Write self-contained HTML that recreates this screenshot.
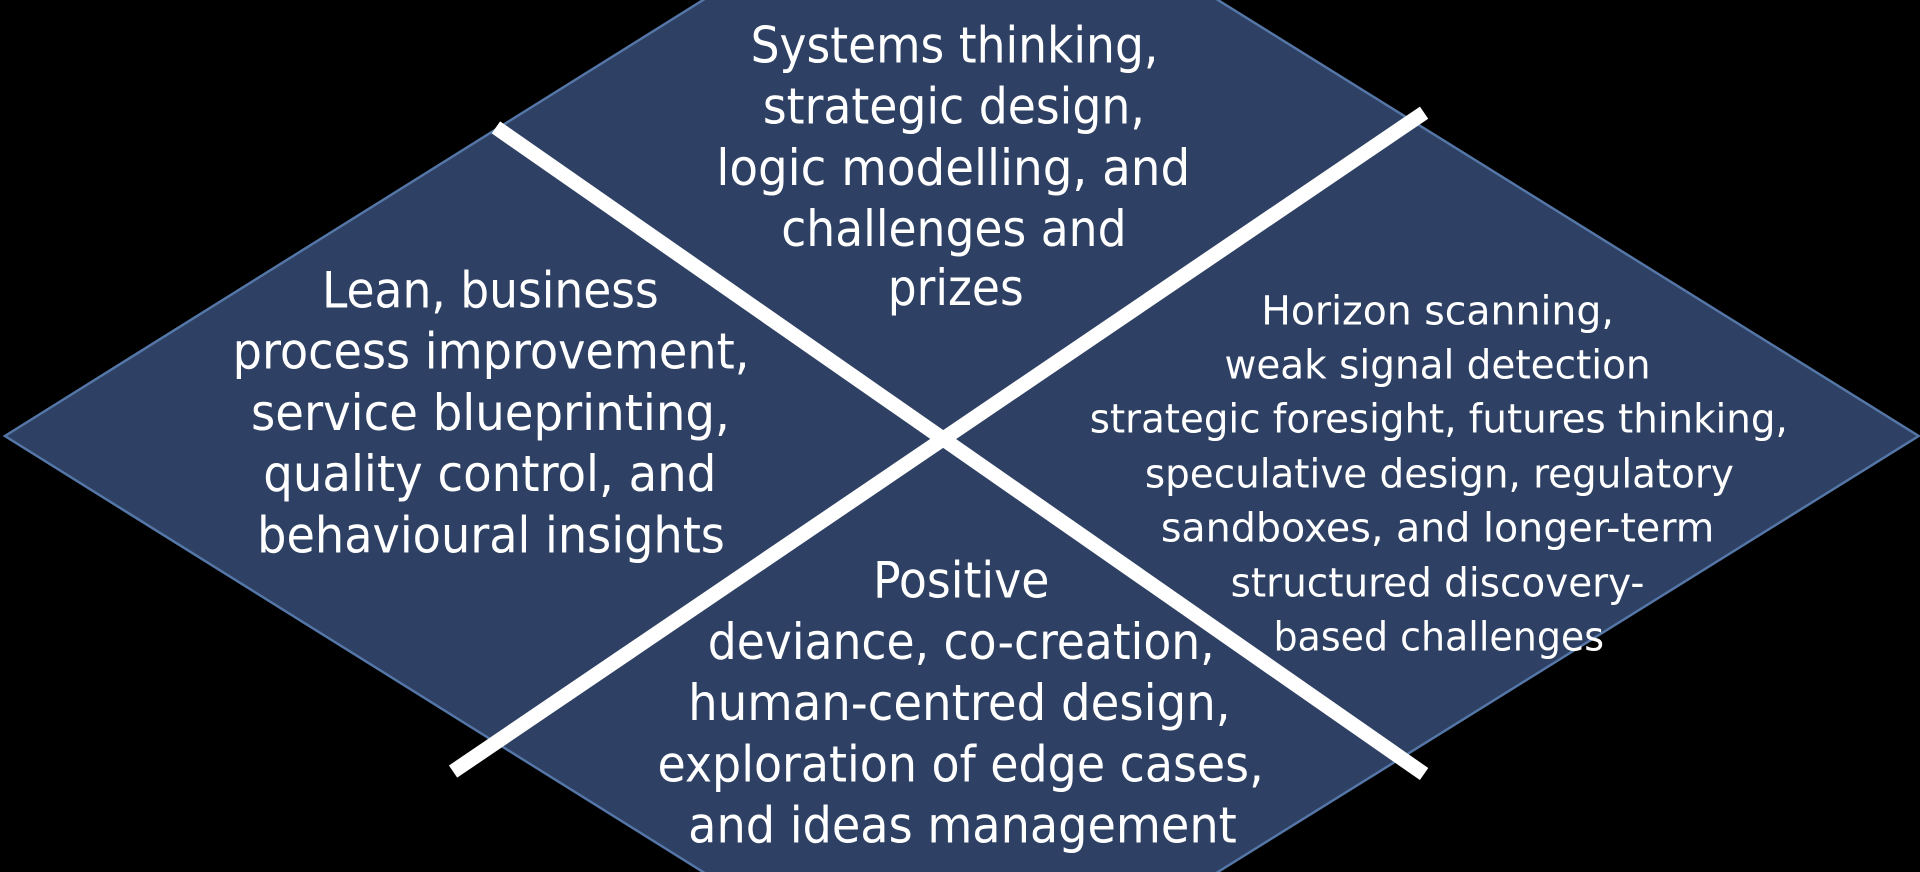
<!DOCTYPE html>
<html><head><meta charset="utf-8"><style>html,body{margin:0;padding:0;background:#000;width:1920px;height:872px;overflow:hidden}svg{display:block}</style></head>
<body>
<svg width="1920" height="872" viewBox="0 0 1568 712" preserveAspectRatio="none" xmlns="http://www.w3.org/2000/svg">
<rect width="1568" height="712" fill="#000"/>
<polygon points="4,356 784,-131 1567,356 784,843" fill="#2e4063" stroke="#5577a8" stroke-width="2"/>
<line x1="405" y1="104" x2="1163" y2="632" stroke="#fff" stroke-width="12"/>
<line x1="1163" y1="92" x2="370" y2="630" stroke="#fff" stroke-width="12"/>
<g fill="#fff" font-family="DejaVu Sans Condensed, Liberation Sans Narrow, Liberation Sans, sans-serif" font-size="41">
<text x="613" y="51" textLength="333" lengthAdjust="spacingAndGlyphs">Systems thinking,</text>
<text x="623" y="101" textLength="312" lengthAdjust="spacingAndGlyphs">strategic design,</text>
<text x="585" y="151" textLength="387" lengthAdjust="spacingAndGlyphs">logic modelling, and</text>
<text x="638" y="201" textLength="282" lengthAdjust="spacingAndGlyphs">challenges and</text>
<text x="725" y="249" textLength="111" lengthAdjust="spacingAndGlyphs">prizes</text>

<text x="263" y="251" textLength="275" lengthAdjust="spacingAndGlyphs">Lean, business</text>
<text x="190" y="301" textLength="422" lengthAdjust="spacingAndGlyphs">process improvement,</text>
<text x="205" y="351" textLength="391" lengthAdjust="spacingAndGlyphs">service blueprinting,</text>
<text x="215" y="401" textLength="370" lengthAdjust="spacingAndGlyphs">quality control, and</text>
<text x="210" y="451" textLength="382" lengthAdjust="spacingAndGlyphs">behavioural insights</text>

<text x="713" y="488" textLength="144" lengthAdjust="spacingAndGlyphs">Positive</text>
<text x="578" y="538" textLength="414" lengthAdjust="spacingAndGlyphs">deviance, co-creation,</text>
<text x="562" y="588" textLength="443" lengthAdjust="spacingAndGlyphs">human-centred design,</text>
<text x="537" y="638" textLength="495" lengthAdjust="spacingAndGlyphs">exploration of edge cases,</text>
<text x="562" y="688" textLength="448" lengthAdjust="spacingAndGlyphs">and ideas management</text>
</g>
<g fill="#fff" font-family="DejaVu Sans Condensed, Liberation Sans Narrow, Liberation Sans, sans-serif" font-size="33">
<text x="1030" y="265" textLength="288" lengthAdjust="spacingAndGlyphs">Horizon scanning,</text>
<text x="1000" y="309" textLength="348" lengthAdjust="spacingAndGlyphs">weak signal detection</text>
<text x="890" y="353" textLength="570" lengthAdjust="spacingAndGlyphs">strategic foresight, futures thinking,</text>
<text x="935" y="398" textLength="481" lengthAdjust="spacingAndGlyphs">speculative design, regulatory</text>
<text x="948" y="442" textLength="452" lengthAdjust="spacingAndGlyphs">sandboxes, and longer-term</text>
<text x="1005" y="487" textLength="338" lengthAdjust="spacingAndGlyphs">structured discovery-</text>
<text x="1040" y="531" textLength="270" lengthAdjust="spacingAndGlyphs">based challenges</text>
</g>
</svg>
</body></html>
